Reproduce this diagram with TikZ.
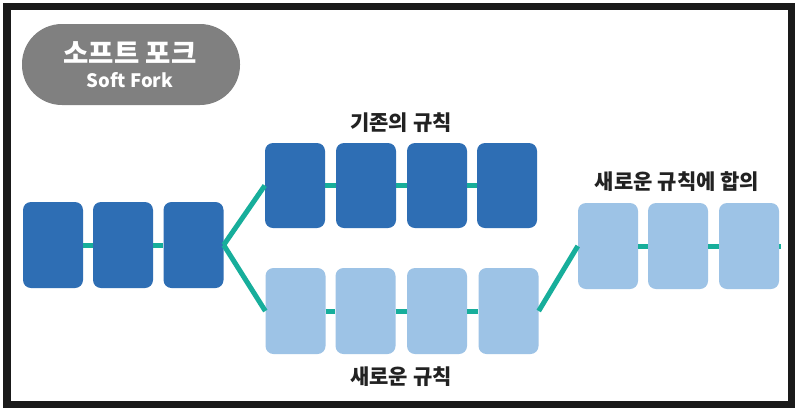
\documentclass[tikz,border=0pt]{standalone}
\usepackage{fontspec}
\newfontfamily\kr{Noto Sans CJK KR}
\definecolor{darkblk}{HTML}{2E6EB4}
\definecolor{lightblk}{HTML}{9DC3E6}
\definecolor{teal}{HTML}{17AE9B}
\definecolor{pillgray}{HTML}{808080}
\definecolor{frameblk}{HTML}{1A1A1A}
\definecolor{labeltxt}{HTML}{222222}
\begin{document}
\begin{tikzpicture}[x=1pt,y=-1pt,
  blk/.style={rectangle, rounded corners=8pt, minimum width=60pt, minimum height=86pt, inner sep=0pt},
  oldblk/.style={blk, fill=darkblk},
  newblk/.style={blk, fill=lightblk},
  link/.style={draw=teal, line width=5pt},
  lbl/.style={font=\kr\bfseries\fontsize{21}{24}\selectfont, text=labeltxt, inner sep=0pt}
]
\useasboundingbox (0,0) rectangle (800,413);
\fill[white] (0,0) rectangle (800,413);
\draw[frameblk, line width=7.5pt] (7,6.5) rectangle (791.5,404.5);

% title pill
\node[fill=pillgray, rounded corners=40pt, minimum width=218pt, minimum height=81pt, inner sep=0pt] (pill) at (131,64.5) {};
\node[font=\kr\bfseries\fontsize{27.5}{30}\selectfont, text=white, inner sep=0pt] (pillkr) at (130,53) {소프트 포크};
\node[font=\kr\bfseries\fontsize{18.5}{21}\selectfont, text=white, inner sep=0pt] (pillen) at (130,80) {Soft Fork};

% left common chain
\node[oldblk] (L1) at (53,245) {};
\node[oldblk] (L2) at (123,245) {};
\node[oldblk] (L3) at (193.5,245) {};

% upper (old rules) chain
\node[oldblk, minimum height=85pt] (U1) at (295,185.5) {};
\node[oldblk, minimum height=85pt] (U2) at (366,185.5) {};
\node[oldblk, minimum height=85pt] (U3) at (437,185.5) {};
\node[oldblk, minimum height=85pt] (U4) at (507,185.5) {};

% lower (new rules) chain
\node[newblk] (D1) at (295.5,311) {};
\node[newblk] (D2) at (365.5,311) {};
\node[newblk] (D3) at (437,311) {};
\node[newblk] (D4) at (508.5,311) {};

% right consensus chain
\node[newblk] (R1) at (608,246) {};
\node[newblk] (R2) at (678,246) {};
\node[newblk] (R3) at (749,246) {};
\coordinate (Rend) at (781,246);

% connectors
\draw[link] (L1.east) -- (L2.west);
\draw[link] (L2.east) -- (L3.west);
\draw[link] (L3.east) -- (U1.west);
\draw[link] (L3.east) -- (D1.west);
\draw[link] (U1.east) -- (U2.west);
\draw[link] (U2.east) -- (U3.west);
\draw[link] (U3.east) -- (U4.west);
\draw[link] (D1.east) -- (D2.west);
\draw[link] (D2.east) -- (D3.west);
\draw[link] (D3.east) -- (D4.west);
\draw[link] (D4.east) -- (R1.west);
\draw[link] (R1.east) -- (R2.west);
\draw[link] (R2.east) -- (R3.west);
\draw[link] (R3.east) -- (Rend);

% labels
\node[lbl] (lold) at (401,123) {기존의 규칙};
\node[lbl] (lnew) at (401,377) {새로운 규칙};
\node[lbl] (lcons) at (677,182) {새로운 규칙에 합의};
\end{tikzpicture}
\end{document}
